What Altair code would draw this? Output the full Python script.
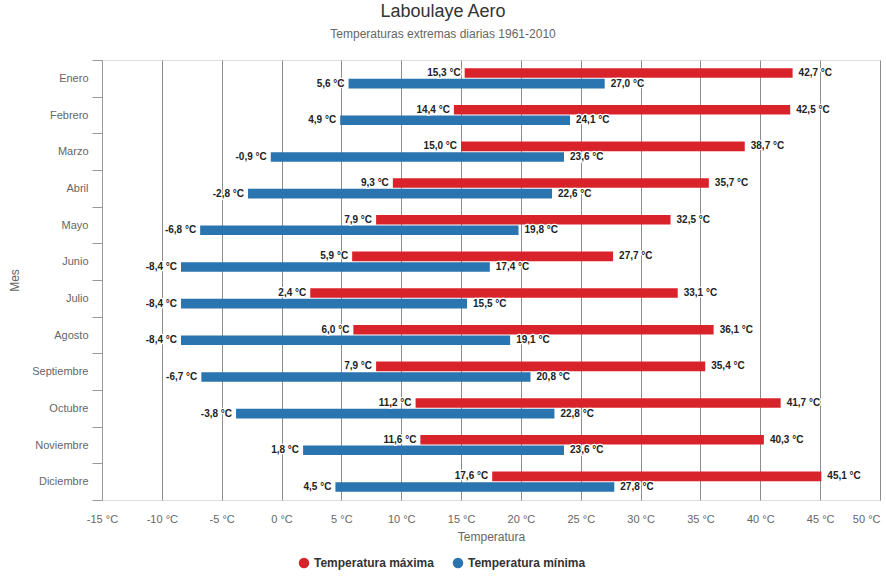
import altair as alt
import pandas as pd

# Monthly extreme daily temperatures, Laboulaye Aero
meses = ["Enero", "Febrero", "Marzo", "Abril", "Mayo", "Junio", "Julio",
         "Agosto", "Septiembre", "Octubre", "Noviembre", "Diciembre"]

# Range of daily maximum temperature (lowest and highest recorded)
max_low = [15.3, 14.4, 15.0, 9.3, 7.9, 5.9, 2.4, 6.0, 7.9, 11.2, 11.6, 17.6]
max_high = [42.7, 42.5, 38.7, 35.7, 32.5, 27.7, 33.1, 36.1, 35.4, 41.7, 40.3, 45.1]

# Range of daily minimum temperature (lowest and highest recorded)
min_low = [5.6, 4.9, -0.9, -2.8, -6.8, -8.4, -8.4, -8.4, -6.7, -3.8, 1.8, 4.5]
min_high = [27.0, 24.1, 23.6, 22.6, 19.8, 17.4, 15.5, 19.1, 20.8, 22.8, 23.6, 27.8]

series = ["Temperatura máxima", "Temperatura mínima"]
colors = ["#d8232a", "#2a74b0"]
x_ticks = list(range(-15, 55, 5))

FONT = "Liberation Sans"


def fmt(v):
    return f"{v:.1f}".replace(".", ",") + " °C"


rows = []
for serie, lows, highs in [(series[0], max_low, max_high), (series[1], min_low, min_high)]:
    for mes, lo, hi in zip(meses, lows, highs):
        rows.append({"mes": mes, "serie": serie, "low": lo, "high": hi,
                     "low_label": fmt(lo), "high_label": fmt(hi)})
df = pd.DataFrame(rows)

y_enc = alt.Y(
    "mes:N", sort=meses,
    scale=alt.Scale(paddingInner=0, paddingOuter=0),
    axis=alt.Axis(
        title="Mes", tickBand="extent", tickSize=10, tickColor="#999999",
        domainColor="#999999", labelColor="#666666", labelFontSize=11,
        labelPadding=4, titleColor="#666666", titleFontSize=12,
        titleFontWeight="normal", titlePadding=10, labelFont=FONT, titleFont=FONT,
    ),
)
yoff_enc = alt.YOffset("serie:N", sort=series,
                       scale=alt.Scale(paddingInner=0.1, paddingOuter=0.78))

x_scale = alt.Scale(domain=[-15, 50], nice=False, zero=False)
x_axis = alt.Axis(
    values=x_ticks, title="Temperatura", labelExpr="datum.value + ' °C'",
    grid=True, gridColor="#8c8c8c", gridWidth=1, domain=False, ticks=False,
    labelColor="#666666", labelFontSize=11, labelPadding=13,
    labelAlign={"condition": {"test": "datum.value == 50", "value": "right"},
                "value": "center"},
    titleColor="#666666", titleFontSize=12, titleFontWeight="normal",
    titlePadding=7, labelFont=FONT, titleFont=FONT,
)

base = alt.Chart(df).encode(y=y_enc, yOffset=yoff_enc)

bars = base.mark_bar().encode(
    x=alt.X("low:Q", scale=x_scale, axis=x_axis),
    x2="high:Q",
    color=alt.Color("serie:N", sort=series,
                    scale=alt.Scale(domain=series, range=colors),
                    legend=alt.Legend(
                        title=None, orient="none", direction="horizontal",
                        legendX=196, legendY=497, symbolType="circle",
                        symbolSize=110, symbolStrokeWidth=0, labelFontSize=12,
                        labelFontWeight="bold", labelColor="#333333",
                        labelFont=FONT, columnPadding=18, labelLimit=300,
                    )),
)


def labels(field, text_field, align, dx):
    halo = base.mark_text(
        align=align, baseline="middle", dx=dx, font=FONT, fontSize=10,
        fontWeight="bold", fill="white", stroke="white", strokeWidth=2.5,
        strokeJoin="round",
    ).encode(x=alt.X(f"{field}:Q", scale=x_scale, axis=x_axis), text=f"{text_field}:N")
    txt = base.mark_text(
        align=align, baseline="middle", dx=dx, font=FONT, fontSize=10,
        fontWeight="bold", color="#222222",
    ).encode(x=alt.X(f"{field}:Q", scale=x_scale, axis=x_axis), text=f"{text_field}:N")
    return [halo, txt]


layers = [bars] + labels("low", "low_label", "right", -4) + labels("high", "high_label", "left", 6)

chart = alt.layer(*layers).properties(
    width=778,
    height=440,
    padding={"left": 102, "top": 60, "right": 6, "bottom": 79},
    autosize=alt.AutoSizeParams(type="none"),
    title=alt.TitleParams(
        "Laboulaye Aero",
        subtitle="Temperaturas extremas diarias 1961-2010",
        font=FONT, fontSize=18, fontWeight="normal", color="#333333",
        subtitleFont=FONT, subtitleFontSize=12, subtitleColor="#666666",
        subtitlePadding=8, anchor="middle", dx=-48, offset=14,
    ),
).configure_view(strokeWidth=0).configure(background="white")

chart.save("out.html", embed_options={"renderer": "svg", "actions": False})
